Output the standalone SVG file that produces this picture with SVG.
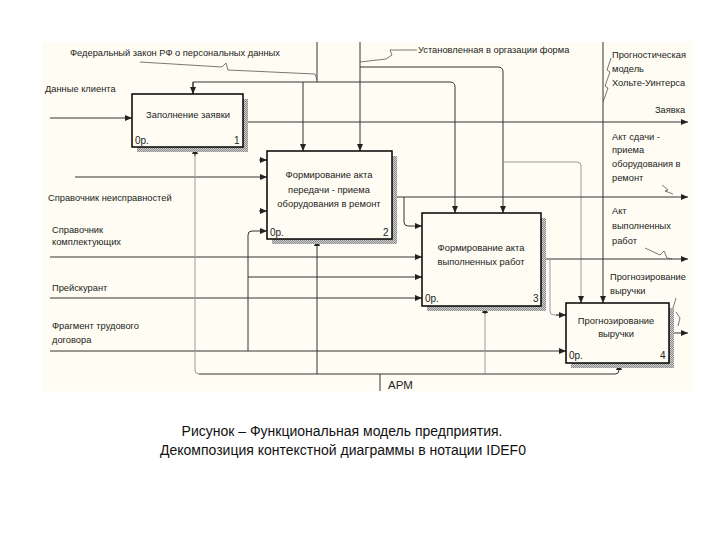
<svg xmlns="http://www.w3.org/2000/svg" width="720" height="540" viewBox="0 0 720 540">
<style>
text{font-family:"Liberation Sans",Arial,sans-serif;fill:#222}
.t{font-size:9.3px}
.c{font-size:9.4px;text-anchor:middle}
.n{font-size:10px}
.cap{font-size:14px;text-anchor:middle;fill:#111}
.box{fill:#fffdf3;stroke:#000;stroke-width:1.5}
.sh{fill:url(#hatch)}
.ln{fill:none;stroke:#333;stroke-width:1}
.lg{fill:none;stroke:#9a9a9a;stroke-width:1}
.ld{fill:none;stroke:#555;stroke-width:0.8}
.ar{marker-end:url(#arr)}
</style>
<defs>
<marker id="arr" markerUnits="userSpaceOnUse" markerWidth="8" markerHeight="7" refX="7" refY="3" orient="auto">
<path d="M0,0 L7,3 L0,6 z" fill="#222"/>
</marker>
<pattern id="hatch" width="2" height="2" patternUnits="userSpaceOnUse">
<rect width="2" height="2" fill="#d0d0d0"/>
<rect width="1" height="1" fill="#8a8a8a"/>
<rect x="1" y="1" width="1" height="1" fill="#8a8a8a"/>
</pattern>
</defs>
<rect width="720" height="540" fill="#fff"/>
<rect x="42" y="42" width="650" height="349" fill="#fffdf3"/>

<g id="connectors">
<!-- Control: Федеральный закон -->
<path class="ln" d="M317,42 V82"/>
<path class="ln ar" d="M193,94 V82 H450 Q455,82 455,87 V213"/>
<path class="ln ar" d="M193,82 V94"/>
<path class="ln ar" d="M303,82 V151"/>
<path class="ld" d="M140,62 L222,67 L226,63 L228,70 L315,74 L317,80"/>
<!-- Control: Установленная форма -->
<path class="ln ar" d="M360,42 V151"/>
<path class="ln ar" d="M360,67 H498 Q503,67 503,72 V213"/>
<path class="lg" d="M503,162 H577 Q581,162 581,166 V300"/>
<path class="ln ar" d="M581,296 V303"/>
<path class="ld" d="M417,50 L390,50 L392,55 L386,59 L360,62"/>
<!-- Control: Прогностическая модель -->
<path class="ln ar" d="M603,42 V303"/>
<path class="ld" d="M611,58 L607,70 L610,72 L605,86 L608,88 L603,102"/>
<!-- Inputs -->
<path class="ln ar" d="M50,118 H132"/>
<path class="ln ar" d="M75,177 H267"/>
<path class="ln ar" d="M259,160 H267"/>
<path class="ln ar" d="M259,211 H267"/>
<path class="ln ar" d="M50,257 H422"/>
<path class="ln ar" d="M50,298 H422"/>
<path class="ln ar" d="M50,351 H566"/>
<path class="ln ar" d="M248,351 V235 Q248,231 252,231 H267"/>
<path class="ln ar" d="M248,277 H422"/>
<!-- Outputs -->
<path class="ln ar" d="M243,122 H688"/>
<path class="ln ar" d="M392,197 H688"/>
<path class="ln ar" d="M404,197 V222 Q404,226 408,226 H422"/>
<path class="ln ar" d="M541,259 H688"/>
<path class="lg" d="M550,259 V311 Q550,315 554,315 H560"/>
<path class="ln ar" d="M556,315 H566"/>
<path class="ln ar" d="M669,333 H688"/>
<path class="ld" d="M662,185 L668,190 L665,191 L673,194"/>
<path class="ld" d="M645,248 L660,255 L664,251 L667,258 L672,259"/>
<path class="ld" d="M676,298 L673,308 M676,312 L680,318 L678,326"/>
<!-- Mechanism: АРМ -->
<path class="ln" d="M380,391 V374"/>
<path class="ln" d="M199,374 H615 Q619,374 619,370 V366"/>
<path class="ln ar" d="M619,368 V363"/>
<path class="lg" d="M199,374 Q195,374 195,370 V152"/>
<path class="ln ar" d="M195,156 V147"/>
<path class="ln ar" d="M317,374 V239"/>
<path class="lg" d="M485,374 V312"/>
<path class="ln ar" d="M485,314 V306"/>
</g>

<g id="box1">
<rect class="sh" x="137" y="99" width="111" height="53"/>
<rect class="box" x="132" y="94" width="111" height="53"/>
<text class="c" x="188" y="118">Заполнение заявки</text>
<text class="n" x="135" y="144">0р.</text>
<text class="n" x="234" y="144">1</text>
</g>
<g id="box2">
<rect class="sh" x="272" y="156" width="125" height="88"/>
<rect class="box" x="267" y="151" width="125" height="88"/>
<text class="c" x="329" y="178">Формирование акта</text>
<text class="c" x="329" y="193">передачи - приема</text>
<text class="c" x="329" y="207">оборудования в ремонт</text>
<text class="n" x="270" y="236">0р.</text>
<text class="n" x="383" y="236">2</text>
</g>
<g id="box3">
<rect class="sh" x="427" y="218" width="119" height="93"/>
<rect class="box" x="422" y="213" width="119" height="93"/>
<text class="c" x="481" y="251">Формирование акта</text>
<text class="c" x="481" y="265">выполненных работ</text>
<text class="n" x="425" y="302">0р.</text>
<text class="n" x="533" y="302">3</text>
</g>
<g id="box4">
<rect class="sh" x="571" y="308" width="103" height="60"/>
<rect class="box" x="566" y="303" width="103" height="60"/>
<text class="c" x="616" y="324">Прогнозирование</text>
<text class="c" x="616" y="337">выручки</text>
<text class="n" x="569" y="359">0р.</text>
<text class="n" x="660" y="359">4</text>
</g>

<g id="labels">
<text class="t" x="70" y="56">Федеральный закон РФ о персональных данных</text>
<text class="t" x="418" y="53">Установленная в оргазации форма</text>
<text class="t" x="612" y="58">Прогностическая</text>
<text class="t" x="612" y="72">модель</text>
<text class="t" x="612" y="86">Хольте-Уинтерса</text>
<text class="t" x="655" y="113">Заявка</text>
<text class="t" x="612" y="140">Акт сдачи -</text>
<text class="t" x="612" y="153">приема</text>
<text class="t" x="612" y="167">оборудования в</text>
<text class="t" x="612" y="181">ремонт</text>
<text class="t" x="612" y="214">Акт</text>
<text class="t" x="612" y="229">выполненных</text>
<text class="t" x="612" y="244">работ</text>
<text class="t" x="610" y="280">Прогнозирование</text>
<text class="t" x="610" y="294">выручки</text>
<text class="t" x="45" y="92">Данные клиента</text>
<text class="t" x="48" y="201">Справочник неисправностей</text>
<text class="t" x="52" y="233">Справочник</text>
<text class="t" x="52" y="245">комплектующих</text>
<text class="t" x="52" y="291">Прейскурант</text>
<text class="t" x="52" y="329">Фрагмент трудового</text>
<text class="t" x="52" y="343">договора</text>
<text x="388" y="389" style="font-size:11.5px">АРМ</text>
</g>

<text class="cap" x="342" y="436">Рисунок – Функциональная модель предприятия.</text>
<text class="cap" x="343" y="455">Декомпозиция контекстной диаграммы в нотации IDEF0</text>
</svg>
